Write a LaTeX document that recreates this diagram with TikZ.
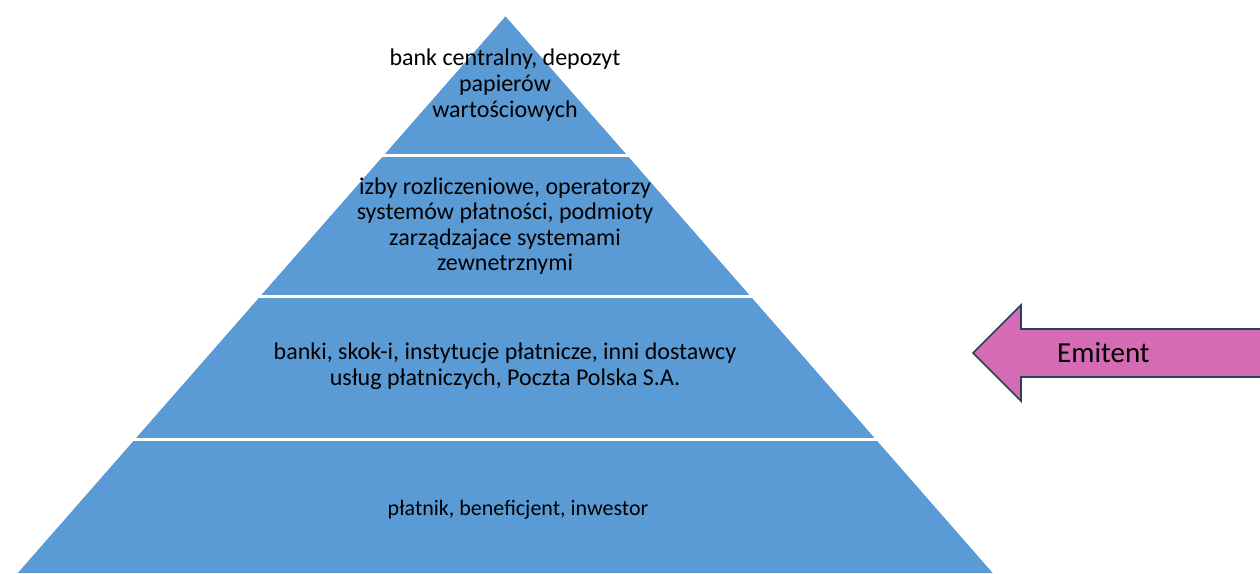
\documentclass[tikz,border=0pt]{standalone}
\usepackage{fontspec}
\setmainfont{Carlito}
\definecolor{pyr}{RGB}{91,155,213}
\definecolor{arrfill}{RGB}{213,106,181}
\definecolor{arrline}{RGB}{44,66,92}
\begin{document}
\begin{tikzpicture}[x=1pt,y=-1pt,
  sep/.style={white,line width=2.7pt},
  lbl/.style={align=center,font=\fontsize{24}{25.6}\selectfont,text=black,inner sep=0pt},
  arr/.style={fill=arrfill,draw=arrline,line width=1.6pt,line join=miter}]
\useasboundingbox (0,0) rectangle (1260,573);
\clip (0,0) rectangle (1260,573);
% pyramid
\fill[pyr] (505.5,16) -- (993,573) -- (17.5,573) -- cycle;
\coordinate (s1l) at (0,155.3);   \coordinate (s1r) at (1000,155.3);
\coordinate (s2l) at (0,296.3);   \coordinate (s2r) at (1000,296.3);
\coordinate (s3l) at (0,439.3);   \coordinate (s3r) at (1000,439.3);
\draw[sep] (s1l) -- (s1r);
\draw[sep] (s2l) -- (s2r);
\draw[sep] (s3l) -- (s3r);
\fill[white] (505.5,16) -- (993,573) -- (1260,573) -- (1260,0) -- (0,0) -- (0,573) -- (17.5,573) -- cycle;
% labels
\node[lbl] (t1) at (505,85) {bank centralny, depozyt\\papierów\\wartościowych};
\node[lbl] (t2) at (505,226) {izby rozliczeniowe, operatorzy\\systemów płatności, podmioty\\zarządzajace systemami\\zewnetrznymi};
\node[lbl] (t3) at (505,366) {banki, skok-i, instytucje płatnicze, inni dostawcy\\usług płatniczych, Poczta Polska S.A.};
\node[lbl,font=\fontsize{22}{25}\selectfont] (t4) at (518,510) {płatnik, beneficjent, inwestor};
% arrow
\draw[arr] (973,353) -- (1021,305) -- (1021,329) -- (1275,329) -- (1275,377) -- (1021,377) -- (1021,401) -- cycle;
\node[font=\fontsize{29}{32}\selectfont,inner sep=0pt,anchor=west] (em) at (1057,353) {Emitent};
\end{tikzpicture}
\end{document}
